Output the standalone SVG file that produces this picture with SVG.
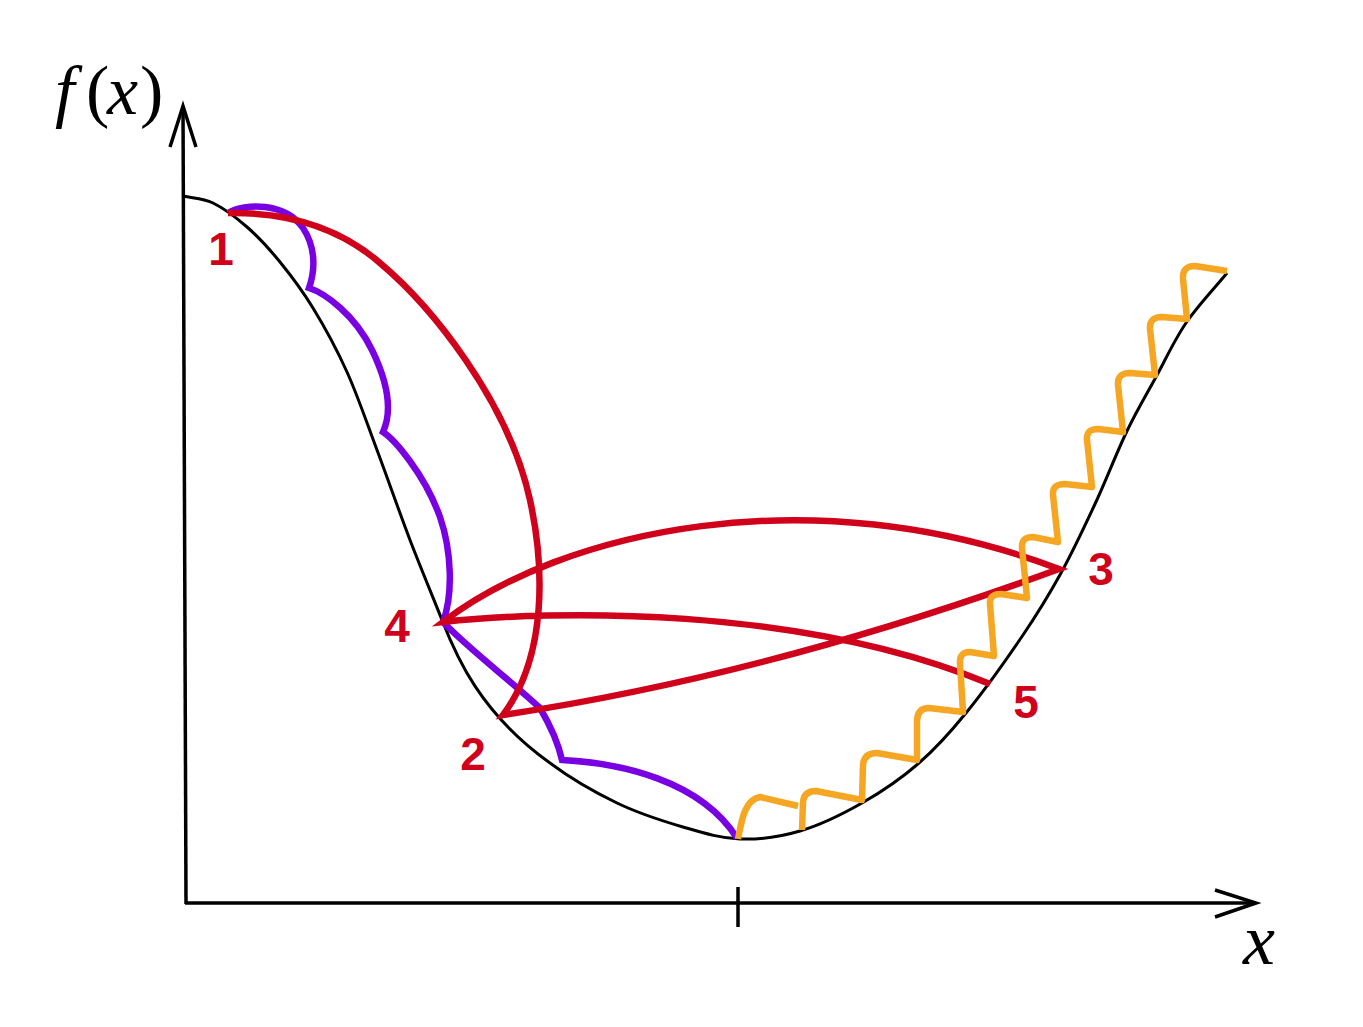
<svg xmlns="http://www.w3.org/2000/svg" width="1363" height="1027" viewBox="0 0 1363 1027">
<style>
.ax{fill:none;stroke:#000;stroke-width:3.5;stroke-linecap:butt;stroke-linejoin:miter}
.fn{fill:none;stroke:#000;stroke-width:3}
.red{fill:none;stroke:#D0021B;stroke-width:6.5;stroke-linejoin:miter;stroke-miterlimit:20}
.pur{fill:none;stroke:#7A00E4;stroke-width:6.5;stroke-linejoin:miter;stroke-miterlimit:20}
.org{fill:none;stroke:#F5A623;stroke-width:6.5;stroke-linejoin:round}
.num{font-family:"Liberation Sans",Arial,sans-serif;font-weight:bold;font-size:46px;fill:#D0021B;text-anchor:middle}
.mi{font-family:"Liberation Serif","Times New Roman",serif;font-style:italic;fill:#000}
.mu{font-family:"Liberation Serif","Times New Roman",serif;fill:#000}
</style>
<rect width="1363" height="1027" fill="#fff"/>
<g id="axes">
<path class="ax" d="M186,904 L183,106"/>
<path class="ax" d="M170,147 L183,106 L196,147"/>
<path class="ax" d="M185,903 L1256,903"/>
<path class="ax" d="M1215,890 L1256,903 L1215,917"/>
<path class="ax" d="M738,887 L738,927"/>
<text x="55" y="114" font-size="70"><tspan class="mi" x="55">f</tspan><tspan class="mu" x="86">(</tspan><tspan class="mi" x="107">x</tspan><tspan class="mu" x="140">)</tspan></text>
<text class="mi" x="1243" y="964" font-size="72">x</text>
</g>
<g id="function">
<path class="fn" d="M183,196 C193,198.3 202.3,197.8 213,203 C223.7,208.2 235.8,217.2 247,227 C258.2,236.8 269,248.5 280,262 C291,275.5 301.8,289.7 313,308 C324.2,326.3 336.3,348.3 347,372 C357.7,395.7 366.5,422 377,450 C387.5,478 399.2,511.7 410,540 C420.8,568.3 434.5,600.8 442,620 C456,655.8 480,713 550,763 C569.2,777.3 594.8,792.3 617,803 C639.2,813.7 662.5,821 683,827 C703.5,833 720.5,838.3 740,839 C759.5,839.7 779.7,837 800,831 C820.3,825 842.2,814.3 862,803 C881.8,791.7 901.7,778 919,763 C936.3,748 948.7,734.3 966,713 C983.3,691.7 1007.2,658.3 1023,635 C1038.8,611.7 1049,594.8 1061,573 C1073,551.2 1084,527.7 1095,504 C1106,480.3 1116.8,452.2 1127,431 C1137.2,409.8 1146.2,395 1156,377 C1165.8,359 1174.2,340.3 1186,323 C1197.8,305.7 1213.3,289.7 1227,273"/>
</g>
<g id="connectors">
<path id="purple-path" class="pur" d="M228,213 C245,203 285,202 303,228 C315,246 316,268 309,288 C325,293 355,315 372,350 C388,383 393,410 383,432 C395,440 425,475 440,517 C452,552 453,595 443,622 C470,650 510,680 540,708 C550,725 558,742 562,760 C620,763 700,780 737,838"/>
<path id="red-path" class="red" d="M228,213 C290,212 340,228 380,263 C430,305 508,400 530,500 C544,564 548,655 503,715 Q770,675 1059,569 C810,474 560,532 443,622 C550,610 800,605 990,684"/>
<path id="orange-path" class="org" d="M738,839 C742,818 745,800 760,797 L798,806 M802,830 L803,802 Q804,791 816,791 L862,800 L863,765 Q864,753 877,753 L917,760 L917,720 Q918,708 929,708 L963,712 L960,664 Q959,652 970,652 L994,656 L990,604 Q989,594 1001,594 L1027,598 L1022,548 Q1021,537 1033,537 L1058,542 L1053,495 Q1052,484 1065,484 L1092,487 L1087,440 Q1086,429 1098,429 L1123,432 L1118,385 Q1117,373 1130,373 L1155,375 L1150,329 Q1149,317 1162,317 L1187,319 L1183,279 Q1182,266 1195,266 L1227,271"/>
</g>
<g id="labels">
<text class="num" x="221" y="265">1</text>
<text class="num" x="473" y="770">2</text>
<text class="num" x="1101" y="585">3</text>
<text class="num" x="397" y="642">4</text>
<text class="num" x="1026" y="718">5</text>
</g>
</svg>
